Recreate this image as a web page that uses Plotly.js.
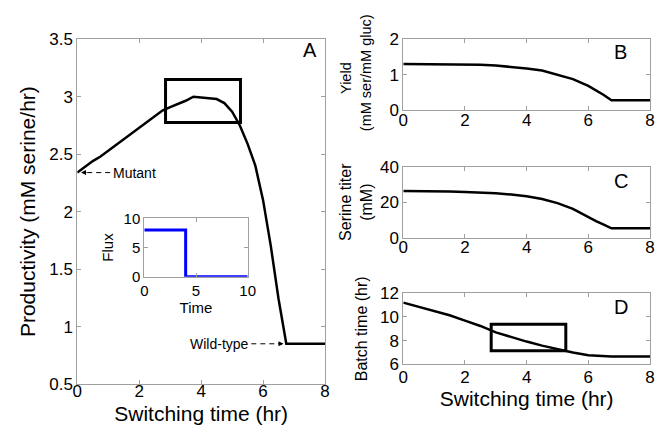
<!DOCTYPE html>
<html>
<head>
<meta charset="utf-8">
<script src="https://cdn.plot.ly/plotly-3.0.1.min.js"></script>
<style>html,body{margin:0;padding:0;background:#fff;}#chart{width:656px;height:425px;}</style>
</head>
<body>
<div id="chart"></div>
<script>
// ---- data ----
const switchA = [0,0.25,0.5,0.75,1,1.25,1.5,1.75,2,2.25,2.5,2.75,3,3.25,3.5,3.75,4,4.25,4.5,4.75,5,5.25,5.5,5.75,6,6.25,6.5,6.75,8];
const productivity = [2.34,2.39,2.44,2.48,2.53,2.58,2.63,2.68,2.73,2.78,2.83,2.88,2.91,2.935,2.965,3.0,2.995,2.99,2.98,2.945,2.87,2.75,2.59,2.40,2.10,1.70,1.24,0.85,0.85];

const switchBCD = [0,0.5,1,1.5,2,2.5,3,3.5,4,4.5,5,5.5,6,6.25,6.5,6.75,8];
const yieldVals = [1.305,1.303,1.30,1.295,1.29,1.28,1.26,1.225,1.18,1.12,1.01,0.88,0.69,0.57,0.43,0.28,0.28];
const titer = [26.3,26.3,26.3,26.0,25.7,25.4,25.0,24.3,23.3,21.8,19.5,16.2,11.5,9.4,7.3,5.3,5.3];
const batchTime = [11.21,10.87,10.54,10.14,9.69,9.24,8.70,8.28,7.92,7.58,7.27,6.99,6.76,6.71,6.68,6.66,6.65];

const fluxTime = [0,4,4,10];
const flux = [8,8,0,0];

const ticksSwitch = [0,2,4,6,8];
const ticksProd = [0.5,1,1.5,2,2.5,3,3.5];
const ticksProdText = ['0.5','1','1.5','2','2.5','3','3.5'];
const ticksYield = [0,1,2];
const ticksTiter = [0,20,40];
const ticksBatch = [6,8,10,12];
const ticksInset = [0,5,10];

// highlighted window (switching time range) and its extents in panels A and D
const windowX = [2.85, 5.27];
const windowA = [2.776, 3.15];
const windowD = [7.15, 9.38];

// ---- layout helpers (pixel -> paper) ----
const W = 656, H = 425;
const X = p => p / W;
const Y = p => 1 - p / H;
const FONT = 'Liberation Sans, Arial, Helvetica, sans-serif';
const GRAY = '#a0a0a0';

function axis(extra) {
  return Object.assign({
    showline: true, linecolor: GRAY, linewidth: 1, mirror: 'allticks',
    ticks: 'inside', ticklen: 4, tickcolor: GRAY, tickwidth: 1,
    showgrid: false, zeroline: false, fixedrange: true,
    tickfont: {family: FONT, size: 17, color: '#000'}
  }, extra);
}

const lineStyle = {color: '#000', width: 2.5};

const traces = [
  {x: switchA, y: productivity, xaxis: 'x', yaxis: 'y', mode: 'lines', line: lineStyle, hoverinfo: 'skip'},
  {x: switchBCD, y: yieldVals, xaxis: 'x2', yaxis: 'y2', mode: 'lines', line: lineStyle, hoverinfo: 'skip'},
  {x: switchBCD, y: titer, xaxis: 'x3', yaxis: 'y3', mode: 'lines', line: lineStyle, hoverinfo: 'skip'},
  {x: switchBCD, y: batchTime, xaxis: 'x4', yaxis: 'y4', mode: 'lines', line: lineStyle, hoverinfo: 'skip'},
  {x: fluxTime, y: flux, xaxis: 'x5', yaxis: 'y5', mode: 'lines', line: {color: '#0000ff', width: 3}, hoverinfo: 'skip'}
];

const bigTitle = {family: FONT, size: 21, color: '#000'};
const midFont = {family: FONT, size: 16, color: '#000'};
const yieldFont = {family: FONT, size: 14.5, color: '#000'};
const DASH = '5px,4px';

const layout = {
  width: W, height: H,
  margin: {l: 0, r: 0, t: 0, b: 0},
  paper_bgcolor: '#fff', plot_bgcolor: '#fff',
  showlegend: false,
  font: {family: FONT, color: '#000'},
  // Panel A
  xaxis: axis({domain: [X(77.3), X(325)], range: [0, 8], tickvals: ticksSwitch, anchor: 'y', ticklabelstandoff: -8,
    title: {text: 'Switching time (hr)', font: bigTitle, standoff: 10}}),
  yaxis: axis({domain: [Y(384), Y(39.3)], range: [0.5, 3.5], tickvals: ticksProd, ticktext: ticksProdText, anchor: 'x',
    title: {text: 'Productivity (mM serine/hr)', font: bigTitle, standoff: 7}}),
  // Panel B (two-line y title drawn as annotations below)
  xaxis2: axis({domain: [X(403.3), X(650)], range: [0, 8], tickvals: ticksSwitch, anchor: 'y2', ticklabelstandoff: -6}),
  yaxis2: axis({domain: [Y(110.3), Y(39.3)], range: [0, 2], tickvals: ticksYield, anchor: 'x2'}),
  // Panel C
  xaxis3: axis({domain: [X(403.3), X(650)], range: [0, 8], tickvals: ticksSwitch, anchor: 'y3', ticklabelstandoff: -6}),
  yaxis3: axis({domain: [Y(237.7), Y(166.7)], range: [0, 40], tickvals: ticksTiter, anchor: 'x3',
    title: {text: 'Serine titer<br>(mM)', font: midFont, standoff: 3}}),
  // Panel D
  xaxis4: axis({domain: [X(403.3), X(650)], range: [0, 8], tickvals: ticksSwitch, anchor: 'y4', ticklabelstandoff: -3,
    title: {text: 'Switching time (hr)', font: bigTitle, standoff: 0}}),
  yaxis4: axis({domain: [Y(364.3), Y(293.3)], range: [6, 12], tickvals: ticksBatch, anchor: 'x4',
    title: {text: 'Batch time (hr)', font: midFont, standoff: 8}}),
  // Inset
  xaxis5: axis({domain: [X(144.3), X(247.7)], range: [0, 10], tickvals: ticksInset, anchor: 'y5',
    tickfont: {family: FONT, size: 15, color: '#000'},
    title: {text: 'Time', font: {family: FONT, size: 15, color: '#000'}, standoff: 0}}),
  yaxis5: axis({domain: [Y(276.7), Y(218.3)], range: [0, 10], tickvals: ticksInset, anchor: 'x5',
    tickfont: {family: FONT, size: 15, color: '#000'},
    title: {text: 'Flux', font: {family: FONT, size: 15, color: '#000'}, standoff: 6}}),
  shapes: [
    {type: 'rect', xref: 'x', yref: 'y', x0: windowX[0], x1: windowX[1], y0: windowA[0], y1: windowA[1],
     line: {color: '#000', width: 3}, fillcolor: 'rgba(0,0,0,0)'},
    {type: 'rect', xref: 'x4', yref: 'y4', x0: windowX[0], x1: windowX[1], y0: windowD[0], y1: windowD[1],
     line: {color: '#000', width: 3}, fillcolor: 'rgba(0,0,0,0)'},
    {type: 'line', xref: 'x', yref: 'y', x0: 0.32, x1: 1.06, y0: productivity[0], y1: productivity[0],
     line: {color: '#000', width: 1, dash: DASH}},
    {type: 'line', xref: 'x', yref: 'y', x0: 5.62, x1: 6.42, y0: productivity[productivity.length - 1], y1: productivity[productivity.length - 1],
     line: {color: '#000', width: 1, dash: DASH}}
  ],
  annotations: [
    {text: 'Yield', xref: 'paper', yref: 'paper', x: X(346.7), y: Y(78.3), textangle: -90,
     showarrow: false, xanchor: 'center', yanchor: 'middle', font: yieldFont},
    {text: '(mM ser/mM gluc)', xref: 'paper', yref: 'paper', x: X(365.7), y: Y(72.5), textangle: -90,
     showarrow: false, xanchor: 'center', yanchor: 'middle', font: yieldFont},
    {text: 'A', xref: 'paper', yref: 'paper', x: X(310), y: Y(50.5), showarrow: false, xanchor: 'center', yanchor: 'middle', font: {family: FONT, size: 20, color: '#000'}},
    {text: 'B', xref: 'paper', yref: 'paper', x: X(620), y: Y(52), showarrow: false, xanchor: 'center', yanchor: 'middle', font: {family: FONT, size: 20, color: '#000'}},
    {text: 'C', xref: 'paper', yref: 'paper', x: X(621), y: Y(180.7), showarrow: false, xanchor: 'center', yanchor: 'middle', font: {family: FONT, size: 20, color: '#000'}},
    {text: 'D', xref: 'paper', yref: 'paper', x: X(620.5), y: Y(306.7), showarrow: false, xanchor: 'center', yanchor: 'middle', font: {family: FONT, size: 20, color: '#000'}},
    {text: 'Mutant', xref: 'x', yref: 'y', x: 1.08, y: productivity[0], showarrow: false, xanchor: 'left', yanchor: 'middle', font: {family: FONT, size: 14, color: '#000'}},
    {text: '', xref: 'x', yref: 'y', x: 0.12, y: productivity[0], showarrow: true, ax: 7, ay: 0, arrowhead: 2, arrowsize: 1, arrowwidth: 1, arrowcolor: '#000'},
    {text: 'Wild-type', xref: 'x', yref: 'y', x: 5.6, y: productivity[productivity.length - 1], showarrow: false, xanchor: 'right', yanchor: 'middle', font: {family: FONT, size: 14, color: '#000'}},
    {text: '', xref: 'x', yref: 'y', x: 6.66, y: productivity[productivity.length - 1], showarrow: true, ax: -7, ay: 0, arrowhead: 2, arrowsize: 1, arrowwidth: 1, arrowcolor: '#000'}
  ]
};

Plotly.newPlot('chart', traces, layout, {displayModeBar: false, staticPlot: true});
</script>
</body>
</html>
